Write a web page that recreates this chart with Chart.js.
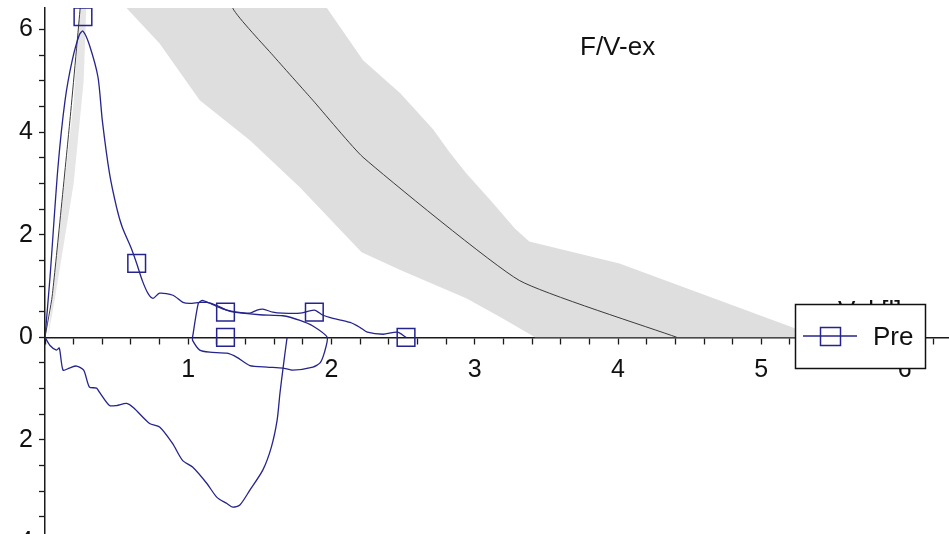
<!DOCTYPE html>
<html lang="en">
  <head>
    <meta charset="UTF-8" />
    <title>F/V-ex</title>
    <script src="https://cdn.jsdelivr.net/npm/chart.js"></script>
    <style>
      html,
      body {
        margin: 0;
        padding: 0;
        overflow: hidden;
        background: #fff;
      }
      #wrap {
        width: 949px;
        height: 563px;
      }
    </style>
  </head>
  <body>
    <div id="wrap"><canvas id="fvChart"></canvas></div>

    <script>
      // measured curve "Pre", [volume, flow]
      const preExp = [
        [0, 0], [0.035, 1.17], [0.09, 3.3], [0.14, 4.62], [0.19, 5.4],
        [0.24, 5.9], [0.265, 5.97], [0.31, 5.7], [0.37, 5.07], [0.4, 4.23],
        [0.45, 3.2], [0.5, 2.53], [0.54, 2.14], [0.6, 1.75], [0.64, 1.44],
        [0.68, 1.1], [0.72, 0.85], [0.754, 0.76], [0.8, 0.86], [0.893, 0.82],
        [0.963, 0.68], [1.01, 0.66], [1.08, 0.68], [1.13, 0.68], [1.2, 0.62],
        [1.27, 0.53], [1.34, 0.49], [1.43, 0.47], [1.48, 0.53], [1.52, 0.55],
        [1.59, 0.49], [1.66, 0.47], [1.78, 0.47], [1.88, 0.53], [1.94, 0.43],
        [2.01, 0.37], [2.13, 0.29], [2.2, 0.19], [2.25, 0.1], [2.36, 0.06],
        [2.46, 0.1], [2.52, 0]
      ];
      const preLoop = [
        [1.03, 0], [1.07, 0.66], [1.1, 0.72], [1.2, 0.6], [1.3, 0.5],
        [1.5, 0.44], [1.66, 0.42], [1.78, 0.33], [1.87, 0.22], [1.97, 0],
        [1.95, -0.3], [1.92, -0.5], [1.87, -0.58], [1.73, -0.64], [1.66, -0.6],
        [1.55, -0.58], [1.43, -0.55], [1.34, -0.39], [1.27, -0.31],
        [1.15, -0.29], [1.08, -0.25], [1.03, -0.06], [1.03, 0]
      ];
      const preInsp = [
        [0, 0], [0.035, -0.16], [0.08, -0.25], [0.1, -0.21], [0.126, -0.64],
        [0.17, -0.6], [0.22, -0.56], [0.27, -0.64], [0.31, -0.97],
        [0.36, -0.99], [0.38, -1.07], [0.45, -1.33], [0.5, -1.33],
        [0.57, -1.29], [0.62, -1.38], [0.73, -1.68], [0.8, -1.75],
        [0.89, -2.07], [0.96, -2.4], [1.03, -2.53], [1.13, -2.85],
        [1.2, -3.12], [1.27, -3.24], [1.31, -3.31], [1.36, -3.27],
        [1.43, -2.98], [1.52, -2.59], [1.58, -2.14], [1.62, -1.62],
        [1.64, -1.09], [1.66, -0.64], [1.675, -0.31], [1.69, 0]
      ];
      const preMarks = [
        [0.265, 6.25], [0.64, 1.44], [1.26, 0.49], [1.88, 0.49], [1.26, 0],
        [2.52, 0]
      ];

      // predicted curve and its range
      const predLine = [
        [0, 0], [0.05, 0.8], [0.174, 4.23], [0.244, 6.37], [0.3, 8.2],
        [0.5, 9.8], [0.8, 10], [1.05, 8.6], [1.312, 6.41], [1.59, 5.5],
        [1.87, 4.62], [2.22, 3.51], [3.31, 1.11], [4.41, 0]
      ];
      const bandLower = [
        [0.38, 7.2], [0.572, 6.41], [0.8, 5.73], [1.08, 4.62], [1.43, 3.84],
        [1.78, 2.92], [2.13, 1.89], [2.21, 1.66], [2.48, 1.31], [2.94, 0.76],
        [3.18, 0.39], [3.42, 0]
      ];
      const bandUpper = [
        [5.35, 0], [5.22, 0.19], [4.01, 1.44], [3.38, 1.87], [3.28, 2.12],
        [3.1, 2.7], [2.94, 3.2], [2.82, 3.62], [2.71, 4.05], [2.48, 4.76],
        [2.22, 5.4], [1.97, 6.41], [1.85, 7.2]
      ];
      const peakBand = [
        [0.02, 0], [0.12, 2.6], [0.2, 4.6], [0.245, 6.6], [0.29, 6.6],
        [0.27, 5.0], [0.2, 3.0], [0.06, 0.6], [0.02, 0]
      ];

      const xTicks = [1, 2, 3, 4, 5, 6];
      const yTicks = [-4, -2, 0, 2, 4, 6];

      const blue = "#24248c";
      const axisColor = "#1a1a1a";
      const fontFamily = '"Liberation Sans", Arial, sans-serif';

      function pts(list) {
        return list.map((p) => ({ x: p[0], y: p[1] }));
      }

      function near(v, list) {
        return list.some((t) => Math.abs(v - t) < 1e-6);
      }

      const textPlugin = {
        id: "fvText",
        afterDraw(chart) {
          const ctx = chart.ctx;
          ctx.save();
          ctx.fillStyle = "#111";
          ctx.textBaseline = "alphabetic";
          ctx.textAlign = "left";
          ctx.font = "26px " + fontFamily;
          ctx.fillText("F/V-ex", 580, 55);
          // axis title, mostly hidden by the legend box
          ctx.fillText("Vol [l]", 838, 319);

          // legend
          ctx.fillStyle = "#fff";
          ctx.fillRect(795, 304, 130, 64);
          ctx.strokeStyle = "#111";
          ctx.lineWidth = 1.5;
          ctx.strokeRect(795.5, 304.5, 130, 64);
          ctx.strokeStyle = blue;
          ctx.lineWidth = 1.3;
          ctx.beginPath();
          ctx.moveTo(803, 336);
          ctx.lineTo(857, 336);
          ctx.stroke();
          ctx.lineWidth = 1.5;
          ctx.strokeRect(820.5, 327.5, 20, 18);
          ctx.fillStyle = "#111";
          ctx.fillText("Pre", 873, 345);
          ctx.restore();
        },
      };

      const ctx = document.getElementById("fvChart").getContext("2d");
      const chart = new Chart(ctx, {
        type: "scatter",
        data: {
          datasets: [
            {
              label: "marks",
              data: pts(preMarks),
              showLine: false,
              pointStyle: "rect",
              pointRadius: 12.5,
              pointBorderWidth: 1.5,
              borderColor: blue,
              backgroundColor: "rgba(0,0,0,0)",
              order: 0,
            },
            {
              label: "Pre",
              data: pts(preExp),
              showLine: true,
              pointRadius: 0,
              borderColor: blue,
              borderWidth: 1.3,
              tension: 0.25,
              order: 1,
            },
            {
              label: "Pre loop",
              data: pts(preLoop),
              showLine: true,
              pointRadius: 0,
              borderColor: blue,
              borderWidth: 1.3,
              tension: 0.2,
              order: 1,
            },
            {
              label: "Pre insp",
              data: pts(preInsp),
              showLine: true,
              pointRadius: 0,
              borderColor: blue,
              borderWidth: 1.3,
              tension: 0.25,
              order: 1,
            },
            {
              label: "Pred",
              data: pts(predLine),
              showLine: true,
              pointRadius: 0,
              borderColor: "#3a3a3a",
              borderWidth: 1,
              tension: 0.15,
              order: 4,
            },
            {
              label: "Pred range",
              data: pts(bandLower.concat(bandUpper)),
              showLine: true,
              pointRadius: 0,
              borderWidth: 0,
              borderColor: "rgba(0,0,0,0)",
              backgroundColor: "#dedede",
              fill: "shape",
              order: 5,
            },
            {
              label: "Pred range peak",
              data: pts(peakBand),
              showLine: true,
              pointRadius: 0,
              borderWidth: 0,
              borderColor: "rgba(0,0,0,0)",
              backgroundColor: "#e6e6e6",
              fill: "shape",
              order: 5,
            },
          ],
        },
        options: {
          responsive: true,
          maintainAspectRatio: false,
          devicePixelRatio: 1,
          animation: false,
          layout: {
            autoPadding: false,
            padding: { top: 8, left: 0, right: 0, bottom: 0 },
          },
          plugins: {
            legend: { display: false },
            tooltip: { enabled: false },
          },
          scales: {
            x: {
              type: "linear",
              min: 0,
              max: 6.31,
              position: { y: 0 },
              ticks: {
                stepSize: 0.2,
                autoSkip: false,
                maxRotation: 0,
                includeBounds: false,
                padding: 12,
                color: "#111",
                font: { size: 25, family: fontFamily },
                callback: (v) => (near(v, xTicks) ? String(Math.round(v)) : ""),
              },
              grid: {
                drawOnChartArea: false,
                drawTicks: true,
                tickLength: 6,
                tickColor: axisColor,
                tickWidth: 1.3,
              },
              border: { display: true, color: axisColor, width: 1.5 },
              afterFit: (s) => {
                s.height = 0;
                s.paddingLeft = 0;
                s.paddingRight = 0;
              },
            },
            y: {
              type: "linear",
              min: -4.4,
              max: 6.42,
              position: "left",
              ticks: {
                stepSize: 0.5,
                autoSkip: false,
                includeBounds: false,
                padding: 6,
                color: "#111",
                font: { size: 25, family: fontFamily },
                callback: (v) =>
                  near(v, yTicks) ? String(Math.abs(Math.round(v))) : "",
              },
              grid: {
                drawOnChartArea: false,
                drawTicks: true,
                tickLength: 6,
                tickColor: axisColor,
                tickWidth: 1.3,
              },
              border: { display: true, color: axisColor, width: 1.5 },
              afterFit: (s) => {
                s.width = 45;
                s.paddingTop = 0;
                s.paddingBottom = 0;
              },
            },
          },
        },
        plugins: [textPlugin],
      });
    </script>
  </body>
</html>
